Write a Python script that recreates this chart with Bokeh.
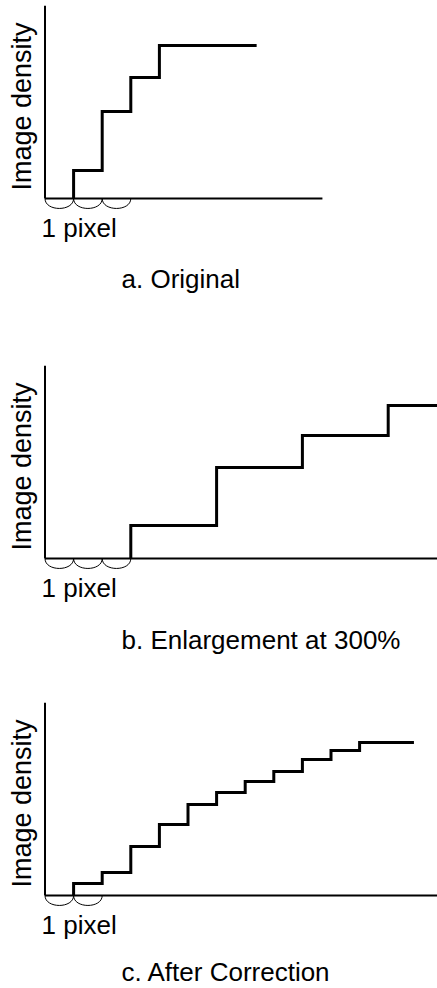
import math
from bokeh.plotting import figure
from bokeh.layouts import column
from bokeh.models import Range1d
from bokeh.core.properties import value
from bokeh.embed import file_html
from bokeh.resources import INLINE

# ---------------- data ----------------
y_label = "Image density"
pixel_label = "1 pixel"
captions = ["a. Original", "b. Enlargement at 300%", "c. After Correction"]

# x in output-pixel units, y in relative image density (0-100)
a_edges = [1, 2, 3, 4]
a_levels = [18.3, 56.9, 79.1, 100]
a_end = 7.4
a_axis_end = 9.7
a_arcs = [0, 1, 2]

b_edges = [3, 6, 9, 12]
b_levels = [21.6, 59.5, 80.4, 100]
b_end = 14
b_axis_end = 14
b_arcs = [0, 1, 2]

c_edges = [1, 2, 3, 4, 5, 6, 7, 8, 9, 10, 11]
c_levels = [7.8, 15.0, 32.0, 46.4, 59.5, 67.3, 74.5, 81.0, 88.9, 94.8, 100]
c_end = 12.9
c_axis_end = 14
c_arcs = [0, 1]

axis_top = 126
arc_depth = 6.5

# ---------------- layout ----------------
W = 437
PX_X = 28.6      # screen px per pixel unit
PX_Y = 1.53      # screen px per density unit
ORIGIN_X = 44.5  # origin offset from figure left
FONT = value("Liberation Sans")
FS = "26px"
FS_Y = "27px"
TXT_SHIFT = 9    # compensation of rendered text baseline offset


def panel(edges, levels, end, axis_end, arcs, caption, height, base_top, cap_dy):
    x0 = -ORIGIN_X / PX_X
    p = figure(width=W, height=height,
               x_range=Range1d(x0, x0 + W / PX_X),
               y_range=Range1d(-(height - base_top) / PX_Y, base_top / PX_Y),
               output_backend="svg", toolbar_location=None, min_border=0,
               x_axis_type=None, y_axis_type=None, outline_line_color=None,
               background_fill_color="white", border_fill_color="white")
    p.grid.visible = False

    # axes
    p.segment(x0=[0, 0], y0=[0, 0], x1=[axis_end, 0], y1=[0, axis_top],
              line_color="black", line_width=2)

    # pixel arcs
    cy = -4.0 / 3.0 * arc_depth
    p.bezier(x0=arcs, y0=[0] * len(arcs),
             x1=[a + 1 for a in arcs], y1=[0] * len(arcs),
             cx0=arcs, cy0=[cy] * len(arcs),
             cx1=[a + 1 for a in arcs], cy1=[cy] * len(arcs),
             line_color="black", line_width=1)

    # density staircase
    xs = [edges[0]] + list(edges) + [end]
    ys = [0] + list(levels) + [levels[-1]]
    p.step(xs, ys, mode="after", line_color="black", line_width=3,
           line_join="miter")

    # texts
    p.text(x=[-3.5 / PX_X], y=[(-38 + TXT_SHIFT) / PX_Y], text=[pixel_label],
           text_font=FONT, text_font_size=FS, text_color="black",
           text_align="left", text_baseline="alphabetic")
    p.text(x=[76.5 / PX_X], y=[(cap_dy + TXT_SHIFT) / PX_Y], text=[caption],
           text_font=FONT, text_font_size=FS, text_color="black",
           text_align="left", text_baseline="alphabetic")
    p.text(x=[(-14.5 - TXT_SHIFT) / PX_X], y=[92 / PX_Y], text=[y_label],
           angle=math.pi / 2,
           text_font=FONT, text_font_size=FS_Y, text_color="black",
           text_align="center", text_baseline="alphabetic")
    return p


pa = panel(a_edges, a_levels, a_end, a_axis_end, a_arcs, captions[0], 300, 198, -89)
pb = panel(b_edges, b_levels, b_end, b_axis_end, b_arcs, captions[1], 360, 258, -90)
pc = panel(c_edges, c_levels, c_end, c_axis_end, c_arcs, captions[2], 328, 235, -85)

layout = column(pa, pb, pc, spacing=0)

open("out.html", "w").write(file_html(layout, INLINE))
